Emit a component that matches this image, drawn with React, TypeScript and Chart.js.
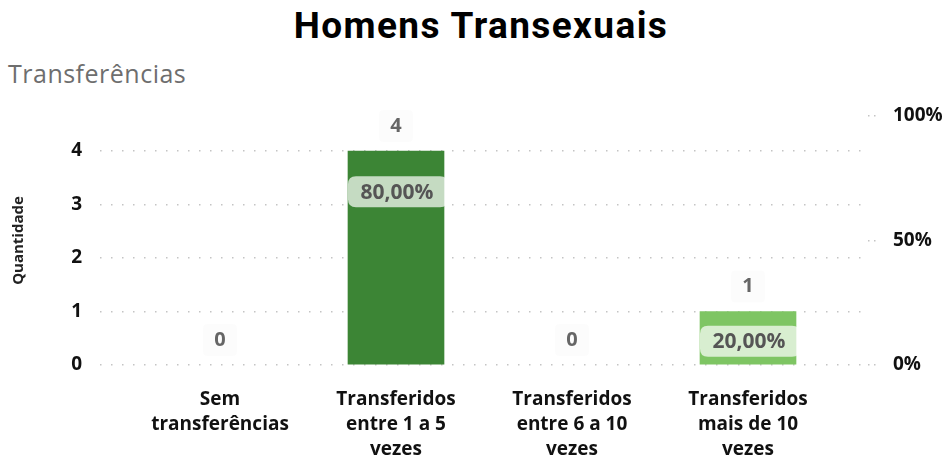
import React, { useEffect, useRef } from "react";
import { Chart, registerables } from "chart.js";

Chart.register(...registerables);

const TITLE = "Homens Transexuais";
const SUBTITLE = "Transferências";
const Y_TITLE = "Quantidade";

const categories: string[][] = [
  ["Sem", "transferências"],
  ["Transferidos", "entre 1 a 5", "vezes"],
  ["Transferidos", "entre 6 a 10", "vezes"],
  ["Transferidos", "mais de 10", "vezes"],
];
const counts: number[] = [0, 4, 0, 1];
const percents: number[] = [0, 80, 0, 20];
const barColors: string[] = ["#2c6e27", "#3c8535", "#5ea546", "#7ec563"];
const leftTicks: number[] = [0, 1, 2, 3, 4];
const rightTicks: number[] = [0, 50, 100];

const TICK_FONT = { family: "'Open Sans', sans-serif", size: 19, weight: "bold" as const };

function roundRect(ctx: CanvasRenderingContext2D, x: number, y: number, w: number, h: number, r: number) {
  ctx.beginPath();
  ctx.moveTo(x + r, y);
  ctx.lineTo(x + w - r, y);
  ctx.quadraticCurveTo(x + w, y, x + w, y + r);
  ctx.lineTo(x + w, y + h - r);
  ctx.quadraticCurveTo(x + w, y + h, x + w - r, y + h);
  ctx.lineTo(x + r, y + h);
  ctx.quadraticCurveTo(x, y + h, x, y + h - r);
  ctx.lineTo(x, y + r);
  ctx.quadraticCurveTo(x, y, x + r, y);
  ctx.closePath();
  ctx.fill();
}

const labelPlugin = {
  id: "valueLabels",
  afterDatasetsDraw(chart: any) {
    const ctx: CanvasRenderingContext2D = chart.ctx;
    const barMeta = chart.getDatasetMeta(0);
    const pctMeta = chart.getDatasetMeta(1);
    ctx.save();
    ctx.textAlign = "center";
    ctx.textBaseline = "middle";
    barMeta.data.forEach((bar: any, i: number) => {
      const x = bar.x;
      const y = bar.y;
      const cy = y - 25;
      ctx.fillStyle = "rgba(0,0,0,0.012)";
      roundRect(ctx, x - 17, cy - 16, 34, 32, 4);
      ctx.font = "bold 20px 'Open Sans', sans-serif";
      ctx.fillStyle = "#666666";
      ctx.fillText(String(counts[i]), x, cy);
      if (percents[i] > 0) {
        const p = pctMeta.data[i];
        const py = p.y + 26;
        ctx.fillStyle = "rgba(255,255,255,0.7)";
        roundRect(ctx, x - 48, py - 15.5, 100, 31, 8);
        ctx.fillStyle = "#555555";
        ctx.font = "bold 21px 'Open Sans', sans-serif";
        ctx.fillText(percents[i].toFixed(2).replace(".", ",") + "%", x + 1, py + 1);
      }
    });
    ctx.restore();
  },
};

export default function App() {
  const canvasRef = useRef<HTMLCanvasElement | null>(null);

  useEffect(() => {
    if (!canvasRef.current) return;
    const chart = new Chart(canvasRef.current, {
      type: "bar",
      data: {
        datasets: [
          {
            type: "bar",
            label: "Quantidade",
            data: counts.map((c, i) => ({ x: i, y: c })),
            backgroundColor: (c: any) => (counts[c.dataIndex] > 0 ? barColors[c.dataIndex] : "rgba(0,0,0,0)"),
            barThickness: 96,
            xAxisID: "x",
            yAxisID: "y",
          } as any,
          {
            type: "line",
            label: "%",
            data: percents.map((p, i) => ({ x: i, y: p })),
            showLine: false,
            pointRadius: 0,
            pointHoverRadius: 0,
            xAxisID: "x",
            yAxisID: "y2",
          } as any,
        ],
      },
      options: {
        animation: false,
        responsive: false,
        layout: { padding: { top: 116, left: 0, right: 0, bottom: 0 } },
        plugins: {
          legend: { display: false },
          tooltip: { enabled: false },
        },
        scales: {
          x: {
            type: "linear",
            min: -120 / 176,
            max: 3 + 120 / 176,
            offset: false,
            grid: { display: false, drawTicks: false },
            border: { display: false },
            afterBuildTicks: (scale: any) => {
              scale.ticks = categories.map((_, i) => ({ value: i }));
            },
            afterFit: (scale: any) => {
              scale.height = 100;
            },
            ticks: {
              autoSkip: false,
              maxRotation: 0,
              minRotation: 0,
              padding: 22.5,
              color: "#111111",
              font: { family: "'Open Sans', sans-serif", size: 19, weight: "bold", lineHeight: 25 / 19 },
              callback: (v: any) => categories[Number(v)] ?? "",
            },
          },
          y: {
            type: "linear",
            position: "left",
            min: 0,
            max: 4.654,
            afterBuildTicks: (scale: any) => {
              scale.ticks = leftTicks.map((v) => ({ value: v }));
            },
            afterFit: (scale: any) => {
              scale.width = 100;
            },
            grid: {
              color: "#c4c4c4",
              lineWidth: 1.5,
              drawTicks: false,
            },
            border: { display: false, dash: [1.5, 9.5] },
            ticks: {
              padding: 18,
              color: "#111111",
              font: TICK_FONT,
            },
            title: {
              display: true,
              text: Y_TITLE,
              color: "#222222",
              font: { family: "'Open Sans', sans-serif", size: 15, weight: "bold" },
              padding: { top: 10, bottom: 0 },
            },
          },
          y2: {
            type: "linear",
            position: "right",
            min: 0,
            max: 100,
            afterBuildTicks: (scale: any) => {
              scale.ticks = rightTicks.map((v) => ({ value: v }));
            },
            afterFit: (scale: any) => {
              scale.width = 84;
            },
            grid: {
              drawOnChartArea: false,
              drawTicks: true,
              tickLength: 10,
              tickBorderDash: [1.5, 4.5],
              tickColor: "#c4c4c4",
              color: "#c4c4c4",
              lineWidth: 1.5,
            },
            border: { display: false },
            ticks: {
              padding: 15,
              color: "#111111",
              font: TICK_FONT,
              callback: (v: any) => `${v}%`,
            },
          },
        },
      } as any,
      plugins: [labelPlugin],
    });
    return () => chart.destroy();
  }, []);

  return (
    <div style={{ position: "absolute", left: 0, top: 0, width: 952, height: 465, background: "#ffffff" }}>
      <div
        style={{
          position: "absolute",
          left: 0,
          top: 7,
          width: 962,
          textAlign: "center",
          fontFamily: "Roboto, sans-serif",
          fontWeight: 700,
          fontSize: 37,
          lineHeight: "37px",
          letterSpacing: "1.4px",
          color: "#000000",
          whiteSpace: "nowrap",
        }}
      >
        {TITLE}
      </div>
      <div
        style={{
          position: "absolute",
          left: 8,
          top: 61,
          fontFamily: "'Open Sans', sans-serif",
          fontWeight: 400,
          fontSize: 25,
          lineHeight: "25px",
          letterSpacing: "0.5px",
          color: "#6e6e6e",
          whiteSpace: "nowrap",
        }}
      >
        {SUBTITLE}
      </div>
      <canvas ref={canvasRef} width={952} height={465} style={{ position: "absolute", left: 0, top: 0, width: 952, height: 465 }} />
    </div>
  );
}
